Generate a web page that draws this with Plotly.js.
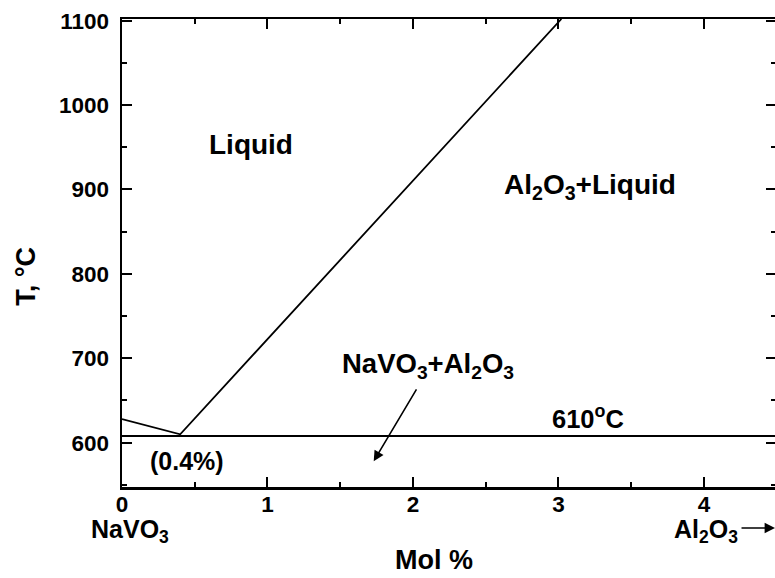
<!DOCTYPE html>
<html>
<head>
<meta charset="utf-8">
<script src="https://cdn.plot.ly/plotly-3.0.1.min.js"></script>
<style>
html,body{margin:0;padding:0;overflow:hidden;background:#fff;}
#chart{width:778px;height:578px;}
</style>
</head>
<body>
<div id="chart"></div>
<script>
// Data
const liquidusX = [0, 0.4, 3.02];
const liquidusY = [628, 610, 1102];
const eutecticX = [0, 4.6];
const eutecticY = [608, 608];
const arrowTail = [2.03, 665];
const arrowHead = [1.73, 578];
const xTickVals = [0, 1, 2, 3, 4];
const yTickVals = [600, 700, 800, 900, 1000, 1100];

const F = 'Liberation Sans, Arial, sans-serif';
const bold = (size) => ({family: F, size: size, color: '#000', weight: 'bold'});

const traces = [
  {x: liquidusX, y: liquidusY, mode: 'lines', line: {color: '#000', width: 1.8}, hoverinfo: 'skip', showlegend: false},
  {x: eutecticX, y: eutecticY, mode: 'lines', line: {color: '#000', width: 2}, hoverinfo: 'skip', showlegend: false}
];

const axisCommon = {
  showgrid: false, zeroline: false, showline: true, linecolor: '#000', linewidth: 2.5,
  mirror: 'ticks', ticks: 'inside', ticklen: 10, tickwidth: 2, tickcolor: '#000',
  tickfont: bold(22.5), fixedrange: true
};

function lab(x, y, text, size, extra) {
  return Object.assign({x: x, y: y, xref: 'x', yref: 'y', text: text, showarrow: false,
    xanchor: 'center', yanchor: 'middle', font: bold(size)}, extra || {});
}
function plab(x, y, text, size, extra) {
  return Object.assign({x: x, y: y, xref: 'paper', yref: 'paper', text: text, showarrow: false,
    xanchor: 'center', yanchor: 'middle', font: bold(size)}, extra || {});
}

const layout = {
  width: 778, height: 578,
  margin: {l: 122, r: 2, t: 19, b: 91},
  paper_bgcolor: '#fff', plot_bgcolor: '#fff',
  xaxis: Object.assign({}, axisCommon, {
    range: [0, 4.495], tickmode: 'array', tickvals: xTickVals,
    ticktext: xTickVals.map(String), ticklabelstandoff: -5,
    minor: {dtick: 0.5, ticks: 'inside', ticklen: 5, tickwidth: 2, tickcolor: '#000'}
  }),
  yaxis: Object.assign({}, axisCommon, {
    range: [547.5, 1102], tickmode: 'array', tickvals: yTickVals,
    ticktext: yTickVals.map(String), ticklabelstandoff: 6,
    minor: {dtick: 50, ticks: 'inside', ticklen: 5, tickwidth: 2, tickcolor: '#000'}
  }),
  annotations: [
    lab(0.887, 953, 'Liquid', 28),
    lab(3.216, 903, 'Al<sub>2</sub>O<sub>3</sub>+Liquid', 28),
    lab(2.103, 692, 'NaVO<sub>3</sub>+Al<sub>2</sub>O<sub>3</sub>', 27.5),
    lab(3.203, 631, '610<sup>o</sup>C', 25.5),
    lab(0.45, 578, '(0.4%)', 25),
    {x: arrowHead[0], y: arrowHead[1], xref: 'x', yref: 'y', axref: 'x', ayref: 'y',
     ax: arrowTail[0], ay: arrowTail[1], text: '', showarrow: true,
     arrowhead: 2, arrowsize: 1.3, arrowwidth: 1.6, arrowcolor: '#000'},
    plab(0.0122, -0.094, 'NaVO<sub>3</sub>', 25),
    plab(0.945, -0.093, 'Al<sub>2</sub>O<sub>3</sub>', 25, {xanchor: 'right'}),
    {x: 0.9985, y: -0.0876, xref: 'paper', yref: 'paper', text: '', showarrow: true,
     ax: -35, ay: 0, arrowhead: 2, arrowsize: 1.3, arrowwidth: 1.6, arrowcolor: '#000'},
    plab(0.477, -0.156, 'Mol %', 27),
    plab(-0.147, 0.451, 'T, °C', 27, {textangle: -90})
  ]
};

Plotly.newPlot('chart', traces, layout, {displayModeBar: false, staticPlot: true});
</script>
</body>
</html>
